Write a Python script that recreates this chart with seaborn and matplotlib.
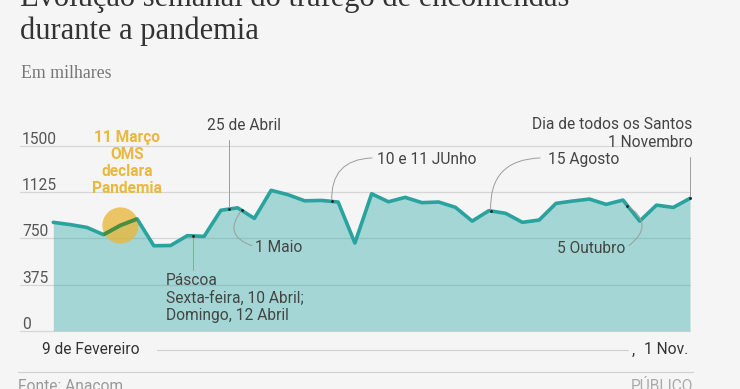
import numpy as np
import pandas as pd
import matplotlib
matplotlib.use("Agg")
import matplotlib.pyplot as plt
import seaborn as sns

# ---------------- data ----------------
week_index = list(range(39))  # weekly, 9 Feb -> 1 Nov 2020
parcels_thousands = [880, 862, 839, 780, 855, 908, 690, 692, 772, 766,
                     978, 998, 912, 1140, 1105, 1055, 1058, 1045, 712, 1112,
                     1047, 1083, 1040, 1045, 1002, 890, 975, 953, 880, 899,
                     1034, 1053, 1069, 1026, 1061, 890, 1020, 1001, 1075]
y_ticks = [0, 375, 750, 1125, 1500]
y_tick_labels = ["0", "375", "750", "1125", "1500"]
title_lines = ["Evolução semanal do tráfego de encomendas", "durante a pandemia"]
subtitle = "Em milhares"
x_start_label = "9 de Fevereiro"
x_end_label = "1 Nov."
source = "Fonte: Anacom"
brand = "PÚBLICO"
oms_lines = ["11 Março", "OMS", "declara", "Pandemia"]
pascoa_lines = ["Páscoa", "Sexta-feira, 10 Abril;", "Domingo, 12 Abril"]

df = pd.DataFrame({"week": week_index, "value": parcels_thousands})

# ---------------- style ----------------
sns.set_theme(style="white")
plt.rcParams["font.family"] = ["Roboto", "DejaVu Sans"]

BG = "#f5f5f5"
TEAL = "#2aa39e"
FILL = "#2aa8a4"
GRID = "#d6d6d6"
ANN = "#444444"
CONN = "#9c9c9c"
YEL = "#e9b83e"
FS = 11.2

W, H = 740, 389
fig = plt.figure(figsize=(W / 100, H / 100), dpi=100, facecolor=BG)

def fx(px):
    return px / W

def fy(py):
    return 1 - py / H

ax = fig.add_axes([fx(20), fy(330.7), (690 - 20) / W, (330.7 - 146) / H])
ax.set_facecolor("none")
for s in ax.spines.values():
    s.set_visible(False)
ax.set_xticks([])
ax.set_yticks([])
ax.set_xlim(-1.987, 38)
ax.set_ylim(0, 1500)

# grid + tick labels
for t, lab in zip(y_ticks, y_tick_labels):
    ax.axhline(t, color=GRID, lw=0.9, zorder=0, clip_on=False)
    ax.text(-1.86, t + 16, lab, ha="left", va="baseline", fontsize=FS,
            color="#555555", zorder=6)

# area + line
ax.fill_between(df["week"], df["value"], 0, color=FILL, alpha=0.40, lw=0, zorder=1)
sns.lineplot(data=df, x="week", y="value", color=TEAL, lw=2.6, ax=ax, zorder=3)
for ln in ax.lines:
    ln.set_clip_on(False)
    ln.set_solid_joinstyle("round")
ax.set_xlabel("")
ax.set_ylabel("")

# OMS circle
ax.scatter([df["week"][4]], [df["value"][4]], s=680, color=YEL, alpha=0.8,
           lw=0, zorder=2)
seg = df.iloc[3:6]
ax.plot(seg["week"], seg["value"], color="#4d8d3c", lw=2.6, zorder=4,
        solid_capstyle="butt")
for i, line in enumerate(oms_lines):
    ax.text(4.42, 1532 - i * 138, line, ha="center", va="baseline",
            fontsize=FS, fontweight="bold", color=YEL, zorder=6)

def yval(x):
    return float(np.interp(x, df["week"], df["value"]))

def dot(x):
    ax.scatter([x], [yval(x)], s=4, color="#222222", zorder=6, lw=0, clip_on=False)

def vline(x, y_other):
    ax.plot([x, x], [yval(x), y_other], color=CONN, lw=0.7, zorder=5, clip_on=False)

def arc(x_from, y_from, x_dot, rad):
    ax.annotate("", xy=(x_dot, yval(x_dot)), xytext=(x_from, y_from),
                arrowprops=dict(arrowstyle="-", color=CONN, lw=0.7,
                                connectionstyle=f"arc3,rad={rad}",
                                shrinkA=0, shrinkB=0),
                annotation_clip=False, zorder=5)

txt = dict(fontsize=FS, color=ANN, va="baseline", zorder=6)

# 25 de Abril
ax.text(9.16, 1630, "25 de Abril", ha="left", **txt)
vline(10.46, 1549)
dot(10.46)

# Páscoa
for i, line in enumerate(pascoa_lines):
    ax.text(6.73, 371 - i * 142, line, ha="left", **txt)
vline(8.32, 492)
dot(8.32)

# 1 Maio
ax.text(12.04, 642, "1 Maio", ha="left", **txt)
arc(11.86, 690, 11.24, -0.7)
dot(11.24)

# 10 e 11 Junho
ax.text(19.32, 1354, "10 e 11 JUnho", ha="left", **txt)
arc(19.02, 1403, 16.62, 0.5)
dot(16.62)

# 15 Agosto
ax.text(29.53, 1354, "15 Agosto", ha="left", **txt)
arc(29.05, 1403, 26.1, 0.5)
dot(26.1)

# 5 Outubro
ax.text(30.04, 631, "5 Outubro", ha="left", **txt)
arc(34.35, 690, 34.26, 0.7)
dot(34.26)

# 1 Novembro
ax.text(38.16, 1636, "Dia de todos os Santos", ha="right", **txt)
ax.text(38.16, 1489, "1 Novembro", ha="right", **txt)
vline(38.0, 1413)
dot(38.0)

# ---------------- titles & footer ----------------
fig.text(fx(20), fy(6), title_lines[0], family=["Liberation Serif"], fontsize=22,
         color="#333333", ha="left", va="baseline")
fig.text(fx(20), fy(39.5), title_lines[1], family=["Liberation Serif"], fontsize=22,
         color="#333333", ha="left", va="baseline")
fig.text(fx(21), fy(78.5), subtitle, family=["Liberation Serif"], fontsize=12.8,
         color="#777777", ha="left", va="baseline")

fig.text(fx(42), fy(354.5), x_start_label, fontsize=FS, color="#333333",
         ha="left", va="baseline")
fig.add_artist(plt.Line2D([fx(157), fx(628)], [fy(350), fy(350)], color="#d0d0d0",
                          lw=0.8, transform=fig.transFigure))
fig.text(fx(632), fy(354.5), ",", fontsize=FS, color="#333333", ha="left", va="baseline")
fig.text(fx(688), fy(354.5), x_end_label, fontsize=FS, color="#333333",
         ha="right", va="baseline")

fig.add_artist(plt.Line2D([fx(18), fx(693)], [fy(372), fy(372)], color="#d0d0d0",
                          lw=0.8, transform=fig.transFigure))
fig.text(fx(18), fy(391), source, fontsize=FS, color="#999999", ha="left",
         va="baseline")
fig.text(fx(693), fy(391), brand, fontsize=FS, color="#aaaaaa", ha="right",
         va="baseline")

fig.savefig("out.png", dpi=100, facecolor=BG)
